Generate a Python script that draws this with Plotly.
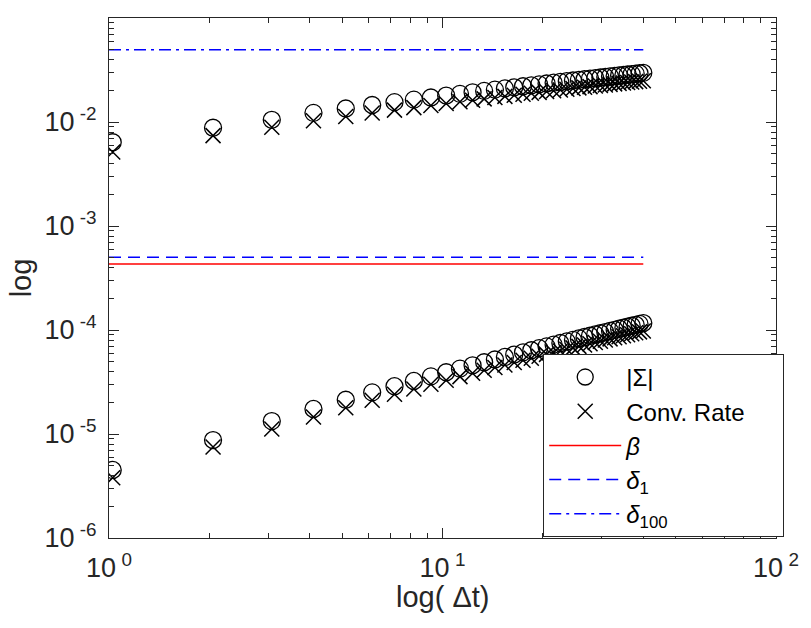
import plotly.graph_objects as go

# ---- data ----
dt = [1.026, 2.051, 3.077, 4.103, 5.128, 6.154, 7.179, 8.205, 9.231, 10.256,
      11.282, 12.308, 13.333, 14.359, 15.385, 16.410, 17.436, 18.462, 19.487, 20.513,
      21.538, 22.564, 23.590, 24.615, 25.641, 26.667, 27.692, 28.718, 29.744, 30.769,
      31.795, 32.821, 33.846, 34.872, 35.897, 36.923, 37.949, 38.974, 40.000]

sigma_upper = [6.39e-3, 8.80e-3, 1.05e-2, 1.224e-2, 1.348e-2, 1.457e-2, 1.553e-2, 1.641e-2, 1.721e-2, 1.796e-2,
               1.865e-2, 1.930e-2, 1.991e-2, 2.049e-2, 2.104e-2, 2.156e-2, 2.206e-2, 2.254e-2, 2.300e-2, 2.344e-2,
               2.386e-2, 2.427e-2, 2.467e-2, 2.505e-2, 2.542e-2, 2.578e-2, 2.612e-2, 2.646e-2, 2.679e-2, 2.712e-2,
               2.743e-2, 2.774e-2, 2.805e-2, 2.832e-2, 2.861e-2, 2.888e-2, 2.916e-2, 2.944e-2, 2.970e-2]

conv_upper = [5.15e-3, 7.40e-3, 8.90e-3, 1.026e-2, 1.130e-2, 1.221e-2, 1.301e-2, 1.375e-2, 1.442e-2, 1.505e-2,
              1.563e-2, 1.617e-2, 1.668e-2, 1.717e-2, 1.763e-2, 1.807e-2, 1.849e-2, 1.889e-2, 1.927e-2, 1.964e-2,
              1.999e-2, 2.034e-2, 2.067e-2, 2.099e-2, 2.130e-2, 2.160e-2, 2.189e-2, 2.217e-2, 2.245e-2, 2.273e-2,
              2.299e-2, 2.325e-2, 2.351e-2, 2.373e-2, 2.398e-2, 2.420e-2, 2.444e-2, 2.467e-2, 2.489e-2]

sigma_lower = [4.51e-6, 8.75e-6, 1.331e-5, 1.741e-5, 2.135e-5, 2.514e-5, 2.882e-5, 3.238e-5, 3.584e-5, 3.925e-5,
               4.252e-5, 4.577e-5, 4.896e-5, 5.204e-5, 5.509e-5, 5.808e-5, 6.098e-5, 6.389e-5, 6.680e-5, 6.957e-5,
               7.231e-5, 7.500e-5, 7.778e-5, 8.036e-5, 8.302e-5, 8.560e-5, 8.809e-5, 9.064e-5, 9.310e-5, 9.561e-5,
               9.800e-5, 1.0045e-4, 1.0295e-4, 1.0514e-4, 1.0755e-4, 1.0982e-4, 1.1213e-4, 1.1448e-4, 1.1668e-4]

conv_lower = [3.80e-6, 7.50e-6, 1.115e-5, 1.459e-5, 1.789e-5, 2.107e-5, 2.415e-5, 2.713e-5, 3.003e-5, 3.289e-5,
              3.563e-5, 3.836e-5, 4.103e-5, 4.361e-5, 4.617e-5, 4.867e-5, 5.110e-5, 5.354e-5, 5.598e-5, 5.830e-5,
              6.060e-5, 6.285e-5, 6.518e-5, 6.734e-5, 6.957e-5, 7.173e-5, 7.382e-5, 7.596e-5, 7.802e-5, 8.012e-5,
              8.212e-5, 8.418e-5, 8.627e-5, 8.811e-5, 9.013e-5, 9.203e-5, 9.396e-5, 9.593e-5, 9.778e-5]

ref_x = [1, 40]
beta = [4.3e-4, 4.3e-4]
delta_1 = [5.0e-4, 5.0e-4]
delta_100 = [4.95e-2, 4.95e-2]

x_tickvals = [1, 10, 100]
x_ticktext = ["10<sup> 0</sup>", "10<sup> 1</sup>", "10<sup> 2</sup>"]
y_tickvals = [1e-6, 1e-5, 1e-4, 1e-3, 1e-2, 1e-1]
y_ticktext = ["10<sup> -6</sup>", "10<sup> -5</sup>", "10<sup> -4</sup>",
              "10<sup> -3</sup>", "10<sup> -2</sup>", "10<sup> -1</sup>"]

# ---- styling ----
FONT = "Liberation Sans, Arial, Helvetica, sans-serif"
AX = "#262626"
circ = dict(symbol="circle-open", size=17, color="black", line=dict(width=1.3, color="black"))
cross = dict(symbol="x-thin-open", size=15, color="black", line=dict(width=1.5, color="black"))

fig = go.Figure()
fig.add_trace(go.Scatter(x=dt, y=sigma_upper, mode="markers", marker=circ,
                         name="|Σ|", legendgroup="s"))
fig.add_trace(go.Scatter(x=dt, y=conv_upper, mode="markers", marker=cross,
                         name="Conv. Rate&nbsp;&nbsp;&nbsp;&nbsp;&nbsp;", legendgroup="c"))
fig.add_trace(go.Scatter(x=ref_x, y=beta, mode="lines",
                         line=dict(color="red", width=1.5), name="<i>β</i>"))
fig.add_trace(go.Scatter(x=ref_x, y=delta_1, mode="lines",
                         line=dict(color="blue", width=1.5, dash="12px,7px"),
                         name="<i>δ</i><sub>1</sub>"))
fig.add_trace(go.Scatter(x=ref_x, y=delta_100, mode="lines",
                         line=dict(color="blue", width=1.5, dash="12px,5px,3px,5px"),
                         name="<i>δ</i><sub>100</sub>"))
fig.add_trace(go.Scatter(x=dt, y=sigma_lower, mode="markers", marker=circ,
                         name="|Σ|", legendgroup="s", showlegend=False))
fig.add_trace(go.Scatter(x=dt, y=conv_lower, mode="markers", marker=cross,
                         name="Conv. Rate", legendgroup="c", showlegend=False))

minor_x = [2, 3, 4, 5, 6, 7, 8, 9, 20, 30, 40, 50, 60, 70, 80, 90]
minor_y = [m * 10.0 ** e for e in range(-6, -1) for m in range(2, 10)]

common = dict(showgrid=False, zeroline=False, showline=True, linecolor=AX, linewidth=1,
              mirror="ticks", ticks="inside", ticklen=10, tickwidth=1, tickcolor=AX,
              tickfont=dict(family=FONT, size=27, color=AX))

fig.update_xaxes(type="log", range=[0, 2], tickmode="array", tickvals=x_tickvals,
                 ticktext=x_ticktext, ticklabelstandoff=6,
                 minor=dict(tickmode="array", tickvals=minor_x, ticks="inside", ticklen=5,
                            tickcolor=AX, showgrid=False),
                 **common)
fig.update_yaxes(type="log", range=[-6, -1], tickmode="array", tickvals=y_tickvals,
                 ticktext=y_ticktext, ticklabelstandoff=6,
                 minor=dict(tickmode="array", tickvals=minor_y, ticks="inside", ticklen=5,
                            tickcolor=AX, showgrid=False),
                 title=dict(text="log", font=dict(family=FONT, size=29, color=AX), standoff=4),
                 **common)

fig.add_annotation(text="log( Δt)", xref="paper", yref="paper", x=0.5, y=-0.113,
                   xanchor="center", yanchor="middle", showarrow=False,
                   font=dict(family=FONT, size=29, color=AX))

fig.update_layout(
    width=811, height=628, autosize=False,
    margin=dict(l=109, r=27, t=18, b=90, pad=0),
    paper_bgcolor="white", plot_bgcolor="white",
    font=dict(family=FONT, color="black"),
    legend=dict(x=0.651, y=0.354, xanchor="left", yanchor="top",
                bgcolor="white", bordercolor=AX, borderwidth=1,
                font=dict(family=FONT, size=24, color="black"),
                tracegroupgap=0, itemwidth=72),
    showlegend=True,
)

fig.write_html("out.html")
